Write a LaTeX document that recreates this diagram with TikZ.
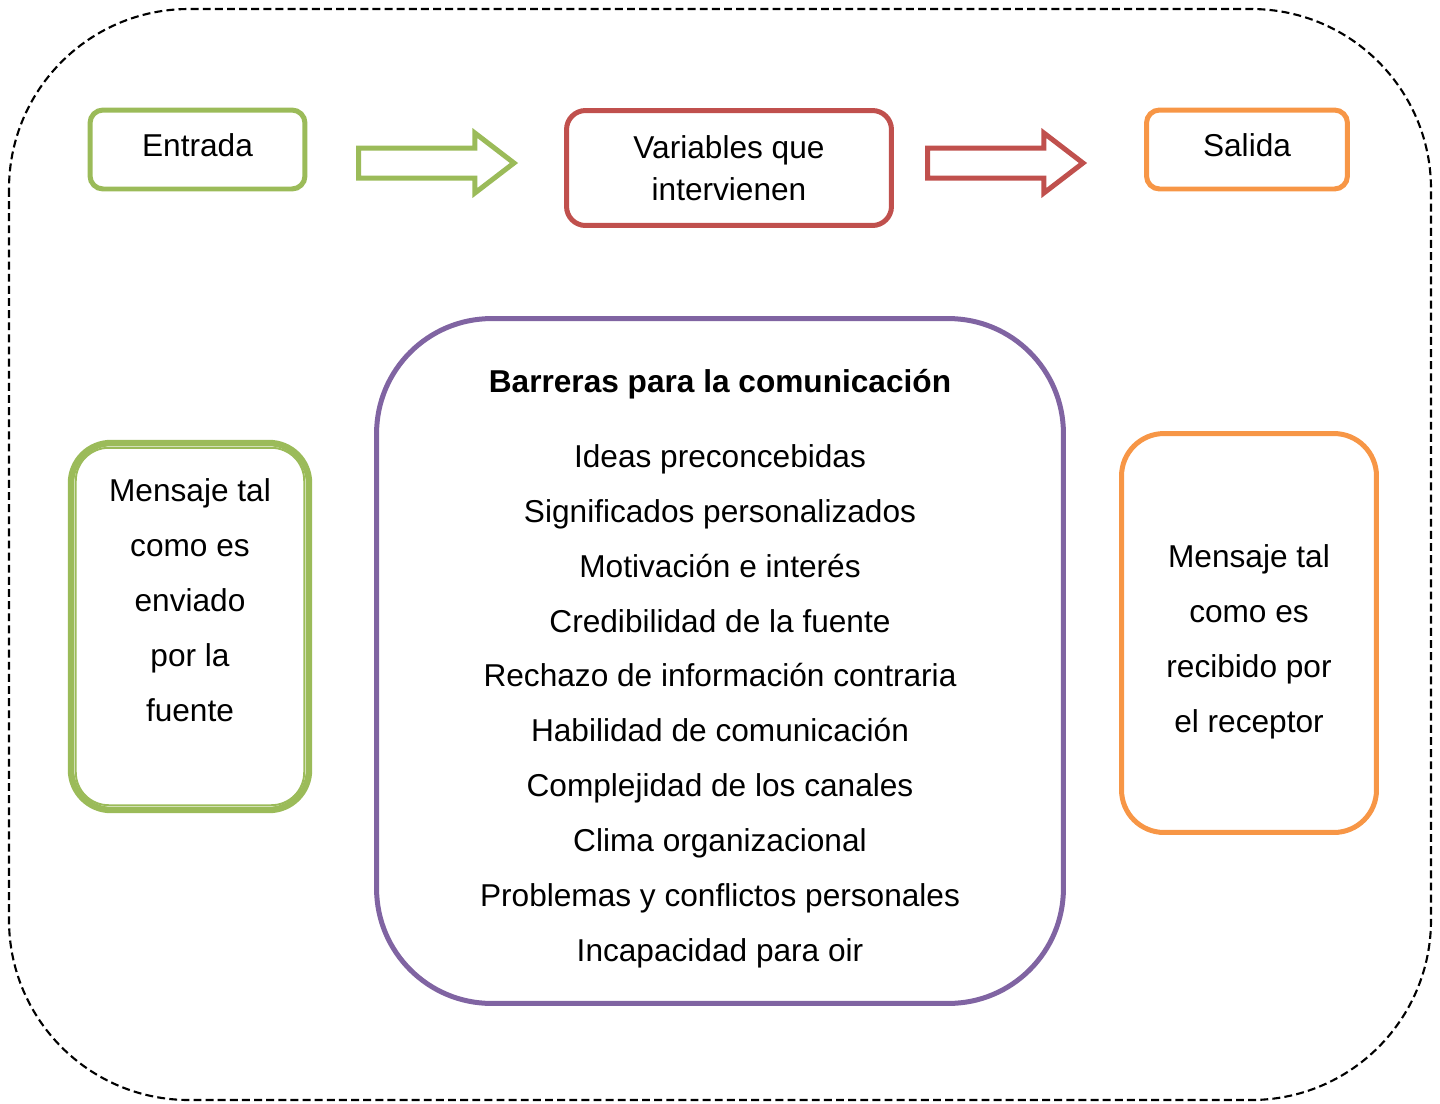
\documentclass[tikz,border=0pt]{standalone}
\usepackage{fontspec}
\setmainfont{Liberation Sans}
\usetikzlibrary{shapes.arrows,positioning}

\definecolor{verde}{HTML}{9BBB59}
\definecolor{rojo}{HTML}{C0504D}
\definecolor{naranja}{HTML}{F79646}
\definecolor{morado}{HTML}{8064A2}

\begin{document}
\begin{tikzpicture}[x=0.02cm, y=-0.02cm, font=\fontsize{18}{31.3}\selectfont, every node/.style={align=center}]

% styles
\tikzset{
  box/.style={rectangle, line width=0.1cm, inner sep=0pt},
  entrada/.style={box, draw=verde, rounded corners=0.26cm, minimum width=4.3cm, minimum height=1.58cm},
  variables/.style={box, draw=rojo, rounded corners=0.38cm, minimum width=6.5cm, minimum height=2.3cm, font=\fontsize{18}{23.8}\selectfont},
  salida/.style={box, draw=naranja, rounded corners=0.26cm, minimum width=4.02cm, minimum height=1.58cm},
  barreras/.style={box, draw=morado, rounded corners=2.3cm, minimum width=13.74cm, minimum height=13.7cm},
  fuente/.style={box, draw=verde, line width=0.13cm, rounded corners=0.8cm, minimum width=4.76cm, minimum height=7.34cm},
  receptor/.style={box, draw=naranja, rounded corners=0.85cm, minimum width=5.1cm, minimum height=7.98cm},
  flecha/.style={single arrow, line width=0.1cm, fill=white, inner xsep=0pt, inner ysep=0.25cm,
    minimum width=1.1cm, minimum height=3.11cm, single arrow head extend=0.3cm,
    single arrow tip angle=75, anchor=tail}
}

% outer dashed frame
\draw[line width=1.2pt, dash pattern=on 4.5pt off 2.4pt, rounded corners=3.6cm] (9,9) rectangle (1431,1100);
\useasboundingbox (0,0) rectangle (1440,1103);

% top row
\node[entrada] (E) at (197.5,149.5) {};
\node (Et) at (197.5,145.5) {Entrada};
\node[variables] (V) at (729,168) {Variables que\\intervienen};
\node[salida] (S) at (1247,149.5) {};
\node (St) at (1247,145.5) {Salida};

\node[flecha, draw=verde] (fE) at (356,163) {};
\node[flecha, draw=rojo] (fV) at (925,163) {};

% barriers
\node[barreras] (B) at (720,661) {};
\node (Bt) at (720,669) {\textbf{Barreras para la comunicación}\\[11pt]
  Ideas preconcebidas\\
  Significados personalizados\\
  Motivación e interés\\
  Credibilidad de la fuente\\
  Rechazo de información contraria\\
  Habilidad de comunicación\\
  Complejidad de los canales\\
  Clima organizacional\\
  Problemas y conflictos personales\\
  Incapacidad para oir};

% sender and receiver
\node[fuente] (F) at (190,626.5) {};
\draw[verde, line width=1.1pt, rounded corners=0.66cm] ([shift={(8,8)}]F.north west) rectangle ([shift={(-8,-8)}]F.south east);
\node (Ft) at (190,600) {Mensaje tal\\como es\\enviado\\por la\\fuente};

\node[receptor] (R) at (1249,633) {};
\node (Rt) at (1249,642) {Mensaje tal\\como es\\recibido por\\el receptor};

\end{tikzpicture}
\end{document}
